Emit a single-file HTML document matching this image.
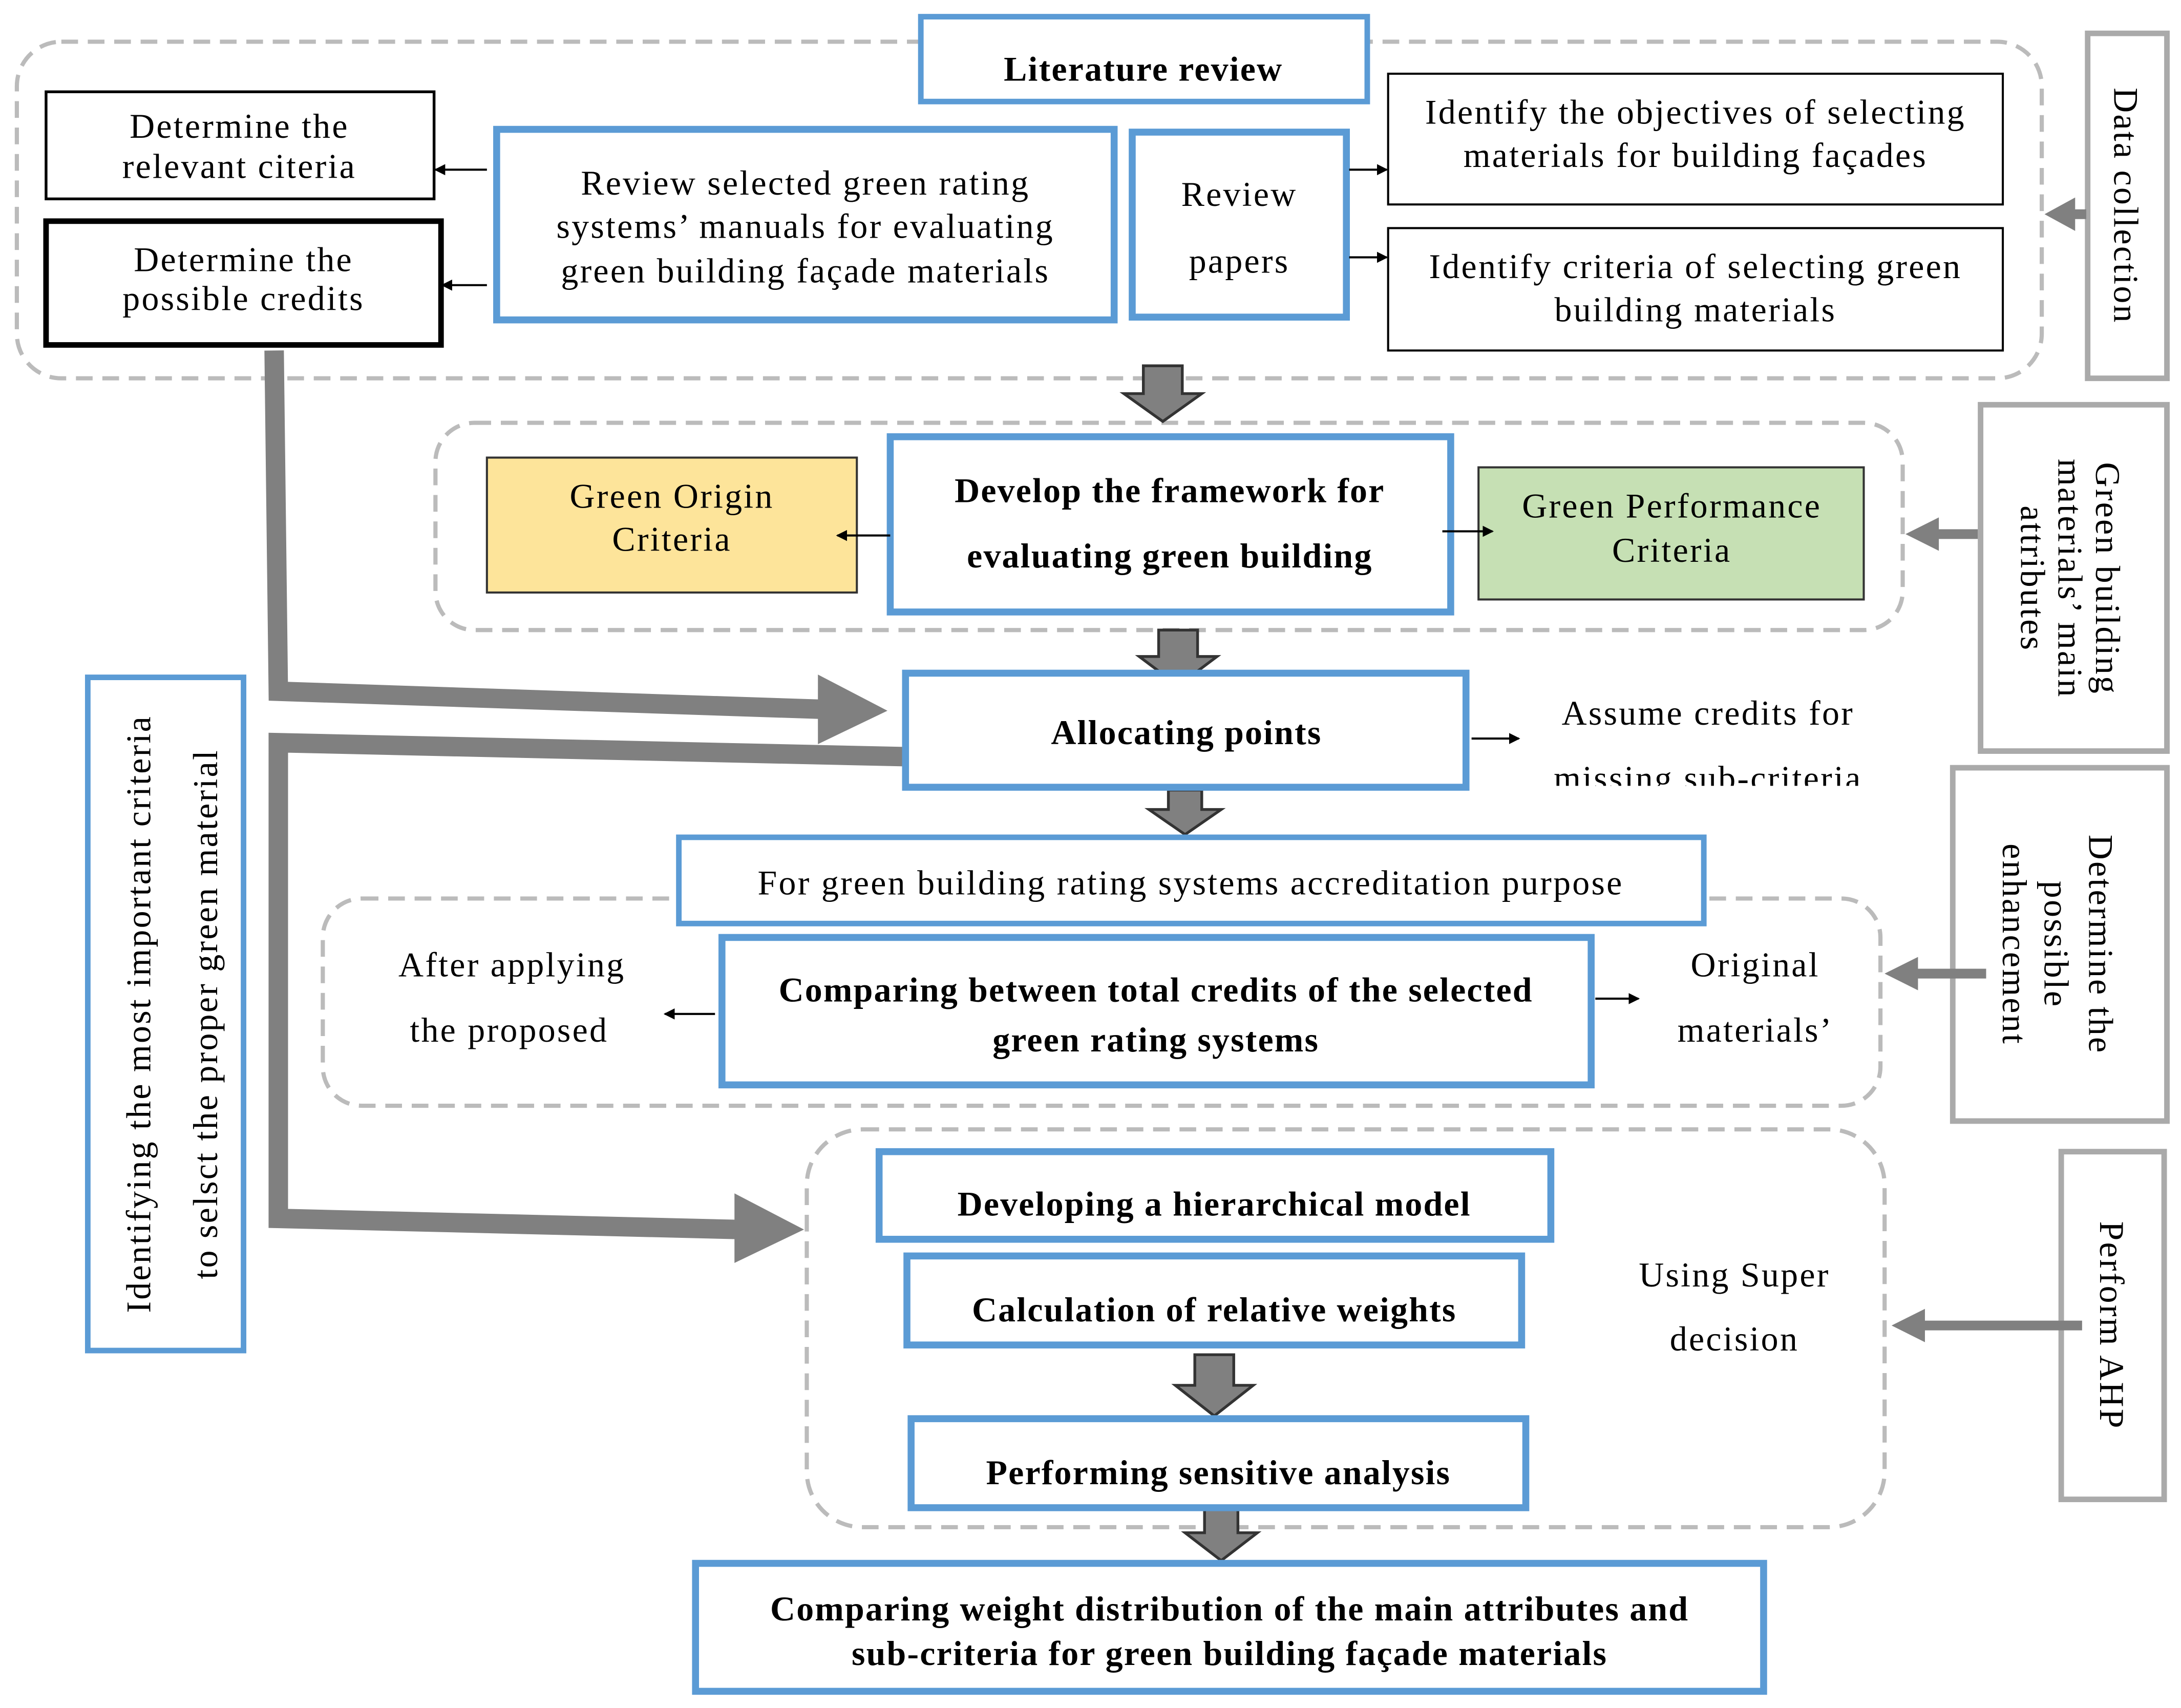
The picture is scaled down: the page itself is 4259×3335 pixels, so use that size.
<!DOCTYPE html>
<html><head><meta charset="utf-8"><style>html,body{margin:0;padding:0;background:#fff}svg{display:block}</style></head><body>
<svg width="4259" height="3335" viewBox="0 0 1568 1228" xmlns="http://www.w3.org/2000/svg" font-family="'Liberation Serif', serif" font-size="25" letter-spacing="1.2" text-anchor="middle">
<defs>
<marker id="a" markerWidth="8" markerHeight="8" refX="7" refY="4" orient="auto" markerUnits="userSpaceOnUse"><path d="M0,0 L8,4 L0,8 z" fill="#000"/></marker>
<clipPath id="cl"><rect x="1080" y="490" width="300" height="75"/></clipPath>
</defs>
<g fill="none" stroke="#bbb" stroke-width="3" stroke-dasharray="12,7">
<rect x="12" y="30" width="1456" height="242" rx="32"/>
<rect x="313" y="304" width="1055" height="149" rx="28"/>
<rect x="232" y="646" width="1120" height="149" rx="28"/>
<rect x="580" y="812" width="775" height="286" rx="40"/>
</g>
<g fill="none" stroke="#808080" stroke-width="14">
<polyline points="197,252 200,497 592,510"/>
<polyline points="650,544 200,534 200,876 532,884"/>
</g>
<g fill="#808080">
<polygon points="588,485 638,511 588,535"/>
<polygon points="528,858 578,884 528,908"/>
</g>
<g fill="#808080" stroke="#333" stroke-width="2">
<polygon points="822,263 850,263 850,283 864,283 836,303 808,283 822,283"/>
<polygon points="833,453 861,453 861,472 875,472 847,493 819,472 833,472"/>
<polygon points="840,568 864,568 864,582 878,582 852,600 826,582 840,582"/>
<polygon points="859,974 887,974 887,996 901,996 873,1018 845,996 859,996"/>
<polygon points="866,1085 890,1085 890,1102 904,1102 878,1122 852,1102 866,1102"/>
</g>
<g fill="#fff">
<rect x="662" y="12" width="321" height="61" stroke="#5b9bd5" stroke-width="4"/>
<rect x="33" y="66" width="279" height="77" stroke="#000" stroke-width="2"/>
<rect x="33" y="159" width="284" height="89" stroke="#000" stroke-width="4"/>
<rect x="357" y="93" width="444" height="137" stroke="#5b9bd5" stroke-width="5"/>
<rect x="814" y="95" width="154" height="133" stroke="#5b9bd5" stroke-width="5"/>
<rect x="998" y="53" width="442" height="94" stroke="#000" stroke-width="1.5"/>
<rect x="998" y="164" width="442" height="88" stroke="#000" stroke-width="1.5"/>
<rect x="1501" y="24" width="57" height="248" stroke="#aaa" stroke-width="4"/>
<rect x="350" y="329" width="266" height="97" stroke="#333" stroke-width="1.5" fill="#fde49a"/>
<rect x="640" y="314" width="403" height="126" stroke="#5b9bd5" stroke-width="5"/>
<rect x="1063" y="336" width="277" height="95" stroke="#333" stroke-width="1.5" fill="#c6e0b4"/>
<rect x="1424" y="291" width="134" height="249" stroke="#aaa" stroke-width="4"/>
<rect x="651" y="484" width="403" height="82" stroke="#5b9bd5" stroke-width="5"/>
<rect x="488" y="602" width="737" height="62" stroke="#5b9bd5" stroke-width="4"/>
<rect x="519" y="674" width="625" height="106" stroke="#5b9bd5" stroke-width="5"/>
<rect x="1404" y="552" width="154" height="254" stroke="#aaa" stroke-width="4"/>
<rect x="632" y="828" width="483" height="63" stroke="#5b9bd5" stroke-width="5"/>
<rect x="652" y="903" width="442" height="64" stroke="#5b9bd5" stroke-width="5"/>
<rect x="655" y="1020" width="442" height="64" stroke="#5b9bd5" stroke-width="5"/>
<rect x="1482" y="828" width="74" height="250" stroke="#aaa" stroke-width="4"/>
<rect x="500" y="1124" width="768" height="92" stroke="#5b9bd5" stroke-width="5"/>
<rect x="63" y="487" width="112" height="484" stroke="#5b9bd5" stroke-width="4"/>
</g>
<g stroke="#000" stroke-width="1.5" marker-end="url(#a)">
<line x1="350" y1="122" x2="313" y2="122"/>
<line x1="350" y1="205" x2="318" y2="205"/>
<line x1="970" y1="122" x2="997" y2="122"/>
<line x1="970" y1="185" x2="997" y2="185"/>
<line x1="640" y1="385" x2="602" y2="385"/>
<line x1="1037" y1="382" x2="1073" y2="382"/>
<line x1="1058" y1="531" x2="1092" y2="531"/>
<line x1="514" y1="729" x2="478" y2="729"/>
<line x1="1147" y1="718" x2="1178" y2="718"/>
</g>
<g stroke="#808080" stroke-width="7">
<line x1="1500" y1="154" x2="1488" y2="154"/>
<line x1="1422" y1="384" x2="1390" y2="384"/>
<line x1="1428" y1="700" x2="1375" y2="700"/>
<line x1="1497" y1="953" x2="1380" y2="953"/>
</g>
<g fill="#808080">
<polygon points="1470,154 1492,142 1492,166"/>
<polygon points="1370,384 1394,372 1394,396"/>
<polygon points="1355,700 1379,688 1379,712"/>
<polygon points="1360,953 1384,941 1384,965"/>
</g>
<g fill="#000">
<g font-weight="bold" letter-spacing="0.8">
<text x="822" y="58">Literature review</text>
<text x="841" y="361">Develop the framework for</text>
<text x="841" y="408">evaluating green building</text>
<text x="853" y="535">Allocating points</text>
<text x="831" y="720">Comparing between total credits of the selected</text>
<text x="831" y="756">green rating systems</text>
<text x="873" y="874">Developing a hierarchical model</text>
<text x="873" y="950">Calculation of relative weights</text>
<text x="876" y="1067">Performing sensitive analysis</text>
<text x="884" y="1165">Comparing weight distribution of the main attributes and</text>
<text x="884" y="1197">sub-criteria for green building façade materials</text>
</g>
<text x="172" y="99">Determine the</text><text x="172" y="128">relevant citeria</text>
<text x="175" y="195">Determine the</text><text x="175" y="223">possible credits</text>
<text x="579" y="140">Review selected green rating</text>
<text x="579" y="171">systems’ manuals for evaluating</text>
<text x="579" y="203">green building façade materials</text>
<text x="891" y="148">Review</text><text x="891" y="196">papers</text>
<text x="1219" y="89">Identify the objectives of selecting</text>
<text x="1219" y="120">materials for building façades</text>
<text x="1219" y="200">Identify criteria of selecting green</text>
<text x="1219" y="231">building materials</text>
<text transform="translate(1520,148) rotate(90)">Data collection</text>
<text x="483" y="365">Green Origin</text><text x="483" y="396">Criteria</text>
<text x="1202" y="372">Green Performance</text><text x="1202" y="404">Criteria</text>
<text transform="translate(1507,416) rotate(90)">Green building</text>
<text transform="translate(1480,416) rotate(90)">materials’ main</text>
<text transform="translate(1453,416) rotate(90)">attributes</text>
<text x="1228" y="521">Assume credits for</text>
<text x="1228" y="568" clip-path="url(#cl)">missing sub-criteria</text>
<text x="856" y="643">For green building rating systems accreditation purpose</text>
<text x="368" y="702">After applying</text><text x="366" y="749">the proposed</text>
<text x="1262" y="702">Original</text><text x="1262" y="749">materials’</text>
<text transform="translate(1502,679) rotate(90)">Determine the</text>
<text transform="translate(1470,679) rotate(90)">possible</text>
<text transform="translate(1440,679) rotate(90)">enhancement</text>
<text x="1247" y="925">Using Super</text><text x="1247" y="971">decision</text>
<text transform="translate(1510,953) rotate(90)">Perform AHP</text>
<text transform="translate(108,729) rotate(-90)">Identifying the most important criteria</text>
<text transform="translate(156,729) rotate(-90)">to selsct the proper green material</text>
</g>
</svg>
</body></html>
